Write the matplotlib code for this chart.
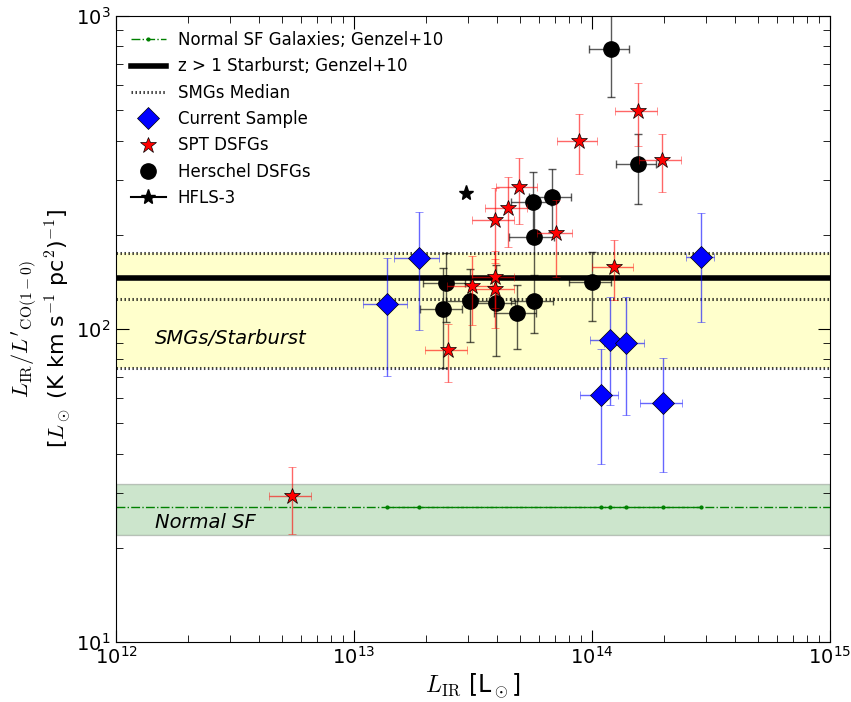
import numpy as np
import matplotlib.pyplot as plt

plt.rcParams['mathtext.fontset'] = 'cm'
plt.rcParams['font.family'] = ['DejaVu Sans']

# Current sample
cur_lir = np.array([1.38, 1.87, 10.9, 11.9, 13.9, 19.9, 28.7]) * 1e13
cur_lir_err = np.array([0.29, 0.40, 2.0, 2.1, 2.7, 4.0, 3.8]) * 1e13
cur_ratio = np.array([120, 168, 61.5, 92, 90, 58, 170])
cur_ratio_err = np.array([49, 69, 24.5, 35, 37, 23, 65])

# SPT DSFGs
spt_lir = np.array([15.6, 8.81, 19.7, 4.93, 4.44, 3.91, 7.06, 12.4, 3.13, 3.91, 3.91, 2.48, 0.548]) * 1e13
spt_lir_err = np.array([3.1, 1.7, 3.9, 0.97, 0.9, 0.77, 1.2, 2.4, 0.66, 0.77, 0.77, 0.5, 0.11]) * 1e13
spt_ratio = np.array([497, 399, 347, 285, 244, 223, 203, 158, 137, 147, 134, 85.8, 29.2])
spt_ratio_err = np.array([112, 86, 73, 68, 61, 60, 56, 34, 34, 30, 33, 18, 7])

# Herschel DSFGs
her_lir = np.array([12.0, 15.6, 5.65, 6.79, 5.70, 2.44, 2.37, 3.07, 3.95, 4.84, 5.70, 10.0]) * 1e13
her_lir_err = np.array([2.3, 3.0, 1.1, 1.35, 1.2, 0.49, 0.48, 0.63, 0.8, 0.95, 1.15, 2.0]) * 1e13
her_ratio = np.array([785, 336, 255, 264, 197, 140, 116, 123, 121, 112.5, 123, 141])
her_ratio_err = np.array([234, 85, 63, 60, 50, 35, 41, 32, 39, 26, 26, 35])

# HFLS-3
hfls_lir = [2.96e13]
hfls_ratio = [272]

# reference relations
normal_sf = 27.0
normal_sf_lo, normal_sf_hi = 22.0, 32.0
starburst = 145.0
smg_median = 125.0
smg_lo, smg_hi = 75.0, 175.0

fig = plt.figure(figsize=(8.51, 7.02), dpi=100)
ax = fig.add_axes([0.1363, 0.0855, 0.8390, 0.8917])

ax.axhspan(smg_lo, smg_hi, facecolor='yellow', edgecolor='none', alpha=0.2, zorder=0)
ax.axhspan(normal_sf_lo, normal_sf_hi, facecolor='g', edgecolor='k', lw=1, alpha=0.2, zorder=0)

ax.axhline(normal_sf, color='g', ls='-.', lw=1, zorder=1)
h_nsf, = ax.plot(np.sort(cur_lir), np.full(len(cur_lir), normal_sf), 'g.-.', lw=1, ms=4, zorder=1)
h_sb = ax.axhline(starburst, color='k', lw=4, zorder=2)
h_smg = None
for val in (smg_lo, smg_median, smg_hi):
    ln = ax.axhline(val, color='k', ls=(0, (0.5, 0.8)), lw=2.2, alpha=0.75, zorder=2)
    if val == smg_median:
        h_smg = ln

h_cur = ax.errorbar(cur_lir, cur_ratio, xerr=cur_lir_err, yerr=cur_ratio_err, fmt='D', color='b',
                    mec='k', mew=0.5, ms=11, ecolor=(0, 0, 1, 0.6), elinewidth=1, capsize=3,
                    zorder=5)
h_spt = ax.errorbar(spt_lir, spt_ratio, xerr=spt_lir_err, yerr=spt_ratio_err, fmt='*', color='r',
                    mec='k', mew=0.5, ms=12, ecolor=(1, 0, 0, 0.6), elinewidth=1, capsize=3,
                    zorder=4)
h_her = ax.errorbar(her_lir, her_ratio, xerr=her_lir_err, yerr=her_ratio_err, fmt='o', color='k',
                    ms=11, ecolor=(0, 0, 0, 0.65), elinewidth=1, capsize=3, zorder=3)
h_hfls, = ax.plot(hfls_lir, hfls_ratio, 'k*-', ms=11, zorder=5)

ax.text(1.46e12, 93.5, 'SMGs/Starburst', style='italic', fontsize=14, va='center')
ax.text(1.46e12, 24.0, 'Normal SF', style='italic', fontsize=14, va='center')

ax.set_xscale('log')
ax.set_yscale('log')
ax.set_xlim(1e12, 1e15)
ax.set_ylim(10, 1000)
ax.tick_params(which='both', direction='in', top=True, right=True, labelsize=14)
ax.tick_params(which='major', length=9)
ax.tick_params(which='minor', length=5)
ax.tick_params(axis='x', pad=3)
ax.tick_params(axis='y', pad=4)

ax.set_xlabel(r'$L_{\rm IR}$ [L$_\odot$]', fontsize=17, labelpad=3)
ax.set_ylabel("$L_{\\rm IR}/L'_{\\rm CO(1-0)}$\n[$L_\\odot$ (K km s$^{-1}$ pc$^2$)$^{-1}$]",
              fontsize=16, labelpad=2)

handles = [h_nsf, h_sb, h_smg, h_cur[0], h_spt[0], h_her[0], h_hfls]
labels = ['Normal SF Galaxies; Genzel+10', 'z > 1 Starburst; Genzel+10', 'SMGs Median',
          'Current Sample', 'SPT DSFGs', 'Herschel DSFGs', 'HFLS-3']
ax.legend(handles, labels, loc='upper left', frameon=False, numpoints=1, fontsize=12,
          labelspacing=0.5, handlelength=2.1, handletextpad=0.7)

fig.savefig('out.png', dpi=100)
